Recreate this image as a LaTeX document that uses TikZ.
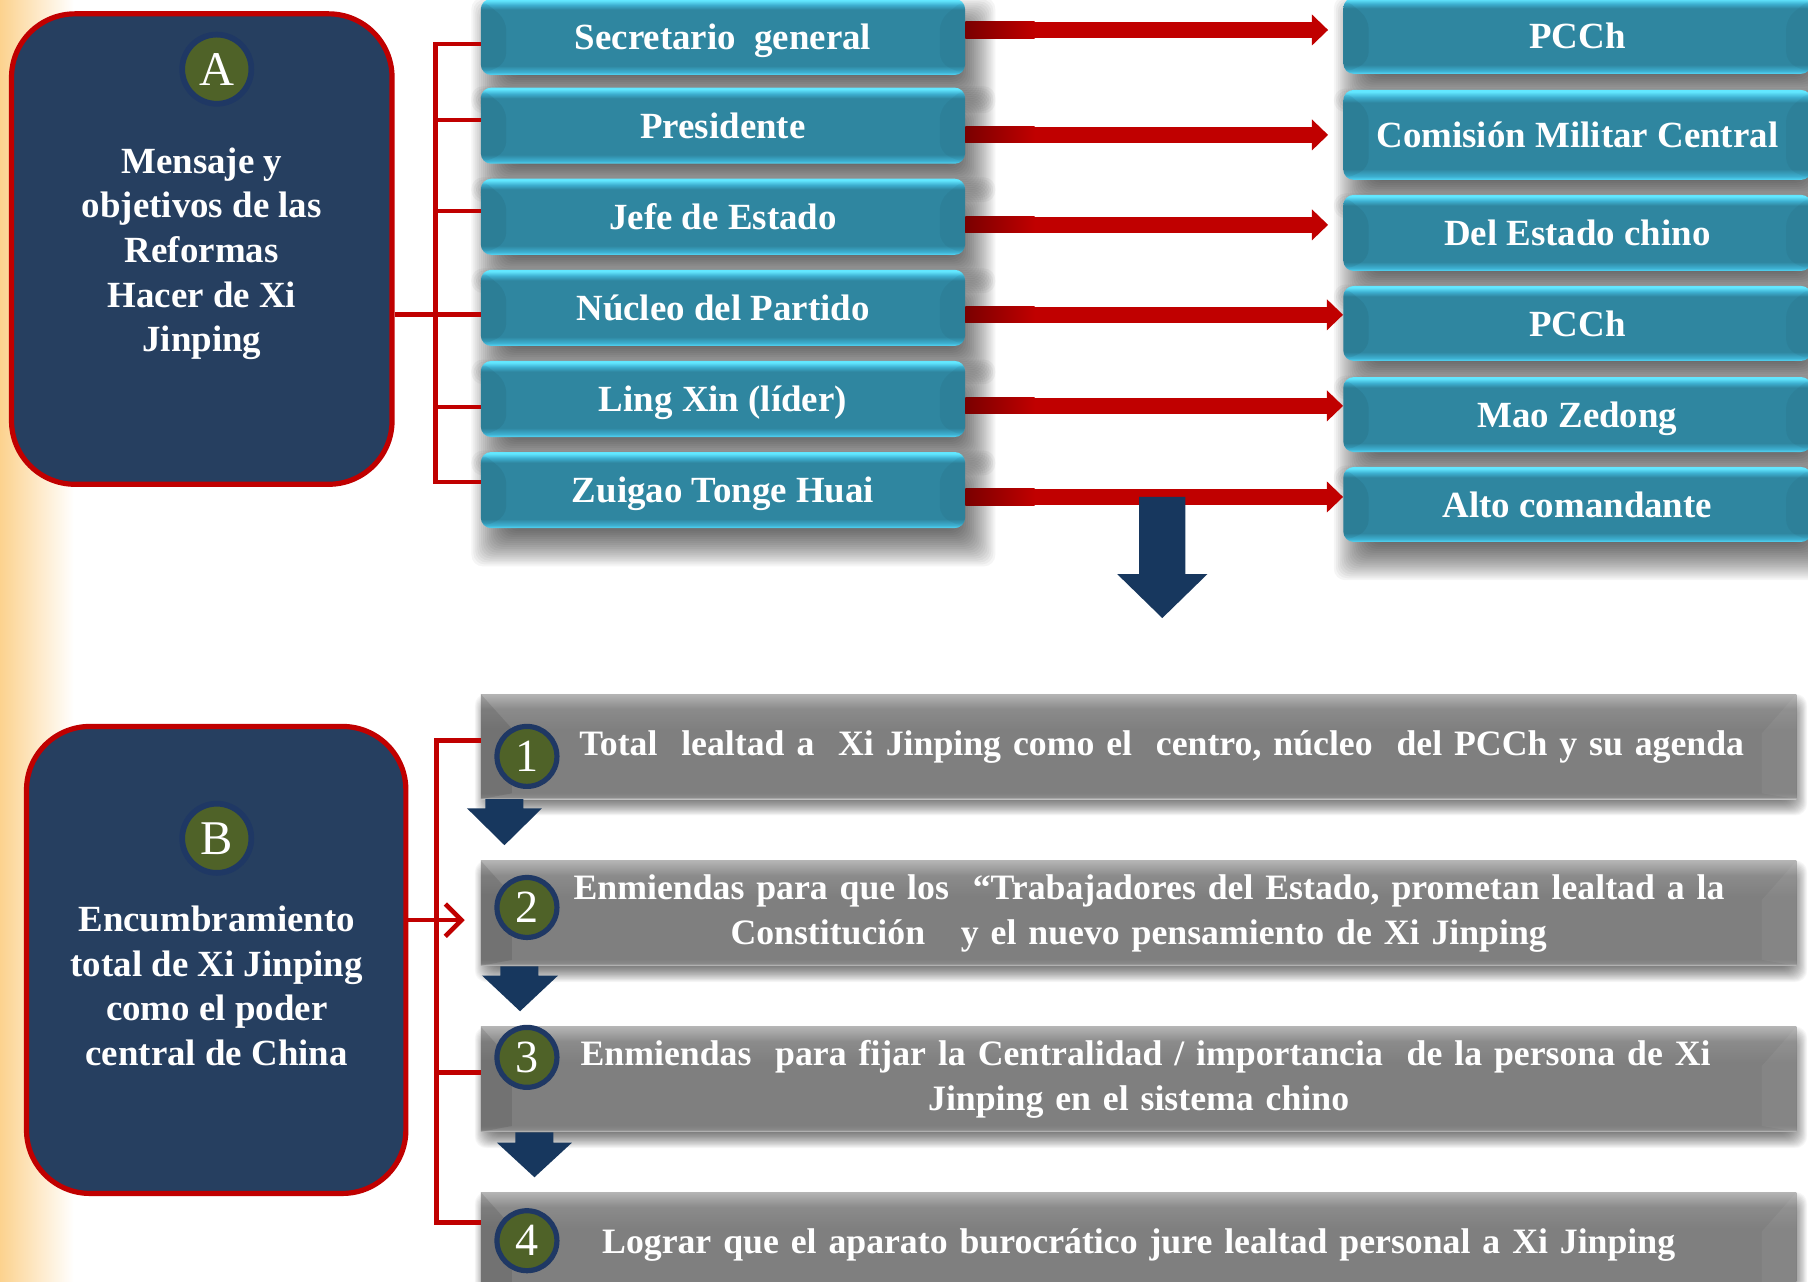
\documentclass[tikz,border=0pt]{standalone}
\usepackage{fontspec}
\setmainfont{Liberation Serif}
\usetikzlibrary{arrows.meta}
\definecolor{cNavy}{HTML}{263F60}
\definecolor{cRed}{HTML}{C00000}
\definecolor{cDark}{HTML}{7A0000}
\definecolor{cArr}{HTML}{17375E}
\definecolor{cGreen}{HTML}{4F6228}
\definecolor{cRing}{HTML}{1F3864}
\definecolor{cyE}{HTML}{55D8F6}
\definecolor{cyB}{HTML}{3DAFD0}
\definecolor{cyM}{HTML}{2F86A0}
\definecolor{cyT}{HTML}{62E7FF}
\definecolor{gyE}{HTML}{C4C4C4}
\definecolor{gyM}{HTML}{7F7F7F}
\definecolor{gyB}{HTML}{8B8B8B}
\definecolor{gyT}{HTML}{B4B4B4}
\definecolor{cOrange}{HTML}{FCD28E}
\pgfdeclarelayer{base}
\pgfdeclarelayer{shad}
\pgfsetlayers{base,shad,main}
\pgfdeclareverticalshading{cyanbev}{100bp}{color(0bp)=(cyE); color(25bp)=(cyE); color(27bp)=(cyB); color(31bp)=(cyM); color(68bp)=(cyM); color(71bp)=(cyB); color(74bp)=(cyT); color(100bp)=(cyT)}
\pgfdeclareverticalshading{graybev}{100bp}{color(0bp)=(gyE); color(25bp)=(gyE); color(26bp)=(gyB); color(28bp)=(gyM); color(58bp)=(gyM); color(68bp)=(gyB); color(75bp)=(gyT); color(100bp)=(gyT)}
\tikzset{
  cyanbox/.style={rectangle, rounded corners=9pt, shade, shading=cyanbev,
    minimum width=420pt, minimum height=66pt, inner sep=0pt, text=white,
    text height=22pt, text depth=0pt,
    font=\bfseries\fontsize{32}{38}\selectfont,
    path picture={
      \fill[black, opacity=0.06] (path picture bounding box.north west) -- ++(22pt,-18pt)
        -- ([xshift=22pt,yshift=10pt]path picture bounding box.south west) -- (path picture bounding box.south west) -- cycle;
      \fill[black, opacity=0.04] (path picture bounding box.north east) -- ++(-22pt,-18pt)
        -- ([xshift=-22pt,yshift=10pt]path picture bounding box.south east) -- (path picture bounding box.south east) -- cycle;
    }},
  graybox/.style={rectangle, shade, shading=graybev,
    minimum width=1141pt, minimum height=91pt, inner sep=0pt, text=white,
    text width=1100pt, align=center,
    font=\bfseries\fontsize{31}{39}\selectfont,
    path picture={
      \fill[black, opacity=0.10] (path picture bounding box.north west) -- ++(27pt,-30pt)
        -- ([xshift=27pt,yshift=5pt]path picture bounding box.south west) -- (path picture bounding box.south west) -- cycle;
      \fill[white, opacity=0.05] (path picture bounding box.north east) -- ++(-30pt,-34pt)
        -- ([xshift=-30pt,yshift=5pt]path picture bounding box.south east) -- (path picture bounding box.south east) -- cycle;
    }},
  navybox/.style={rectangle, rounded corners=55pt, fill=cNavy, draw=cRed, line width=4.5pt},
  boxtext/.style={text=white, font=\bfseries\fontsize{32}{38.7}\selectfont, align=center},
  lettercirc/.style={circle, fill=cGreen, draw=cRing, line width=5pt, minimum size=60pt, inner sep=0pt,
    text=white, font=\fontsize{42}{42}\selectfont},
  numcirc/.style={circle, fill=cGreen, draw=cRing, line width=4.5pt, minimum size=52pt, inner sep=0pt,
    text=white, font=\fontsize{40}{40}\selectfont},
  bracket/.style={draw=cRed, line width=4pt},
  rarrow/.style={draw=cRed, line width=14pt, -{Triangle[length=14pt,width=26pt]}},
  navyarrow/.style={fill=cArr}
}
% soft shadow: node, dx, dy, radius, layer opacity
\newcommand{\softshadow}[5]{%
  \foreach \k in {0,...,19}{%
    \fill[black, fill opacity=#5, rounded corners=10pt]
      ([xshift={(#2-#4+\k*#4/10)*1pt}, yshift={(#3-#4+\k*#4/10)*1pt}]#1.south west) rectangle
      ([xshift={(#2+#4-\k*#4/10)*1pt}, yshift={(#3+#4-\k*#4/10)*1pt}]#1.north east);
  }}
\newcommand{\redarr}[4]{%
  \coordinate (s#1) at ([yshift=#3]l#1.east);
  \draw[rarrow, shorten >=#4] (s#1) -- (s#1 -| r#1.west);
  \shade[left color=cDark, right color=cRed] (s#1) ++(0,-7) rectangle ++(60,14);
}
\begin{document}
\begin{tikzpicture}[x=1pt,y=-1pt]
\useasboundingbox (0,0) rectangle (1568,1111);
\begin{pgfonlayer}{base}
\fill[white] (0,0) rectangle (1568,1111);
\shade[left color=cOrange, right color=white] (0,0) rectangle (64,1111);
\end{pgfonlayer}

% ---------- Section A ----------
\node[navybox, minimum width=330pt, minimum height=408pt] (A) at (175,216) {};
\node[lettercirc] (cA) at (188,60) {A};
\node[boxtext] (Atext) at (175,220) {Mensaje y\\objetivos de las\\Reformas\\Hacer de Xi\\Jinping};

\node[cyanbox] (l1) at (627,32) {Secretario\ \ general};
\node[cyanbox] (l2) at (627,109) {Presidente};
\node[cyanbox] (l3) at (627,188) {Jefe de Estado};
\node[cyanbox] (l4) at (627,267) {Núcleo del Partido};
\node[cyanbox] (l5) at (627,346) {Ling Xin (líder)};
\node[cyanbox] (l6) at (627,425) {Zuigao Tonge Huai};

\node[cyanbox, minimum width=406pt] (r1) at (1368,31) {PCCh};
\node[cyanbox, minimum width=406pt, minimum height=78pt] (r2) at (1368,117) {Comisión Militar Central};
\node[cyanbox, minimum width=406pt] (r3) at (1368,202) {Del Estado chino};
\node[cyanbox, minimum width=406pt, minimum height=65pt] (r4) at (1368,280.5) {PCCh};
\node[cyanbox, minimum width=406pt, minimum height=65pt] (r5) at (1368,359.5) {Mao Zedong};
\node[cyanbox, minimum width=406pt, minimum height=65pt] (r6) at (1368,437.5) {Alto comandante};

\begin{pgfonlayer}{shad}
\foreach \n in {l1,l2,l3,l4,l5,l6,r1,r2,r3,r4,r5,r6}{\softshadow{\n}{9}{-16}{17}{0.04}}
\end{pgfonlayer}

% bracket A
\draw[bracket] ([yshift=-6pt]l1.west) -- ++(-39,0) -- ([xshift=-39pt,yshift=7pt]l6.west) -- ([yshift=7pt]l6.west);
\draw[bracket] ([yshift=5pt]l2.west) -- ++(-39,0);
\draw[bracket] ([yshift=5pt]l3.west) -- ++(-39,0);
\draw[bracket] ([yshift=-7pt]l5.west) -- ++(-39,0);
\coordinate (s4a) at ([yshift=-6pt]l4.west);
\draw[bracket] (A.east |- s4a) -- (s4a);

% red arrows
\redarr{1}{r1}{6pt}{13pt}
\redarr{2}{r2}{-8pt}{13pt}
\redarr{3}{r3}{-7pt}{13pt}
\redarr{4}{r4}{-6pt}{0pt}
\redarr{5}{r5}{-6pt}{0pt}
\redarr{6}{r6}{-6pt}{0pt}

% big navy arrow
\fill[navyarrow] (988,431) -- (1028,431) -- (1028,498) -- (1047,498) -- (1008,536) -- (969,498) -- (988,498) -- cycle;

% ---------- Section B ----------
\node[navybox, minimum width=329pt, minimum height=405pt] (B) at (187.5,832.5) {};
\node[lettercirc] (cB) at (188,727) {B};
\node[boxtext] (Btext) at (188,855) {Encumbramiento\\total de Xi Jinping\\como el poder\\central de China};

\node[graybox] (g1) at (987.5,647.5) {\hspace*{40pt}Total\ \ lealtad a\ \ Xi Jinping como el\ \ centro, núcleo\ \ del PCCh y su agenda};
\node[graybox] (g2) at (987.5,792) {\hspace*{18pt}Enmiendas para que los\ \ “Trabajadores del Estado, prometan lealtad a la\\Constitución\ \ \ y el nuevo pensamiento de Xi Jinping};
\node[graybox] (g3) at (987.5,936) {\hspace*{12pt}Enmiendas\ \ para fijar la Centralidad / importancia\ \ de la persona de Xi\\Jinping en el sistema chino};
\node[graybox] (g4) at (987.5,1079.5) {Lograr que el aparato burocrático jure lealtad personal a Xi Jinping};

\begin{pgfonlayer}{shad}
\foreach \n in {g1,g2,g3,g4}{\softshadow{\n}{2}{-7}{7}{0.03}}
\end{pgfonlayer}

\node[numcirc] (n1) at (457,656) {1};
\node[numcirc] (n2) at (457,787) {2};
\node[numcirc] (n3) at (457,917) {3};
\node[numcirc] (n4) at (457,1076) {4};

% bracket B
\draw[bracket] ([yshift=5.5pt]g1.west) -- ++(-38,0) -- ([xshift=-38pt,yshift=19.5pt]g4.west) -- ([yshift=19.5pt]g4.west);
\draw[bracket] ([yshift=6pt]g3.west) -- ++(-38,0);
\coordinate (Btip) at (403,798);
\draw[bracket, -{Straight Barb[length=14pt,width=28pt,line width=4pt]}] (B.east |- Btip) -- (Btip);

% small navy arrows
\fill[navyarrow] (421,693) -- (454,693) -- (454,701) -- (470,701) -- (437.5,733) -- (405,701) -- (421,701) -- cycle;
\fill[navyarrow] (434,838) -- (467,838) -- (467,846) -- (484,846) -- (451,877) -- (418,846) -- (434,846) -- cycle;
\fill[navyarrow] (447,982) -- (480,982) -- (480,991) -- (496,991) -- (463.5,1021) -- (431,991) -- (447,991) -- cycle;
\end{tikzpicture}
\end{document}
